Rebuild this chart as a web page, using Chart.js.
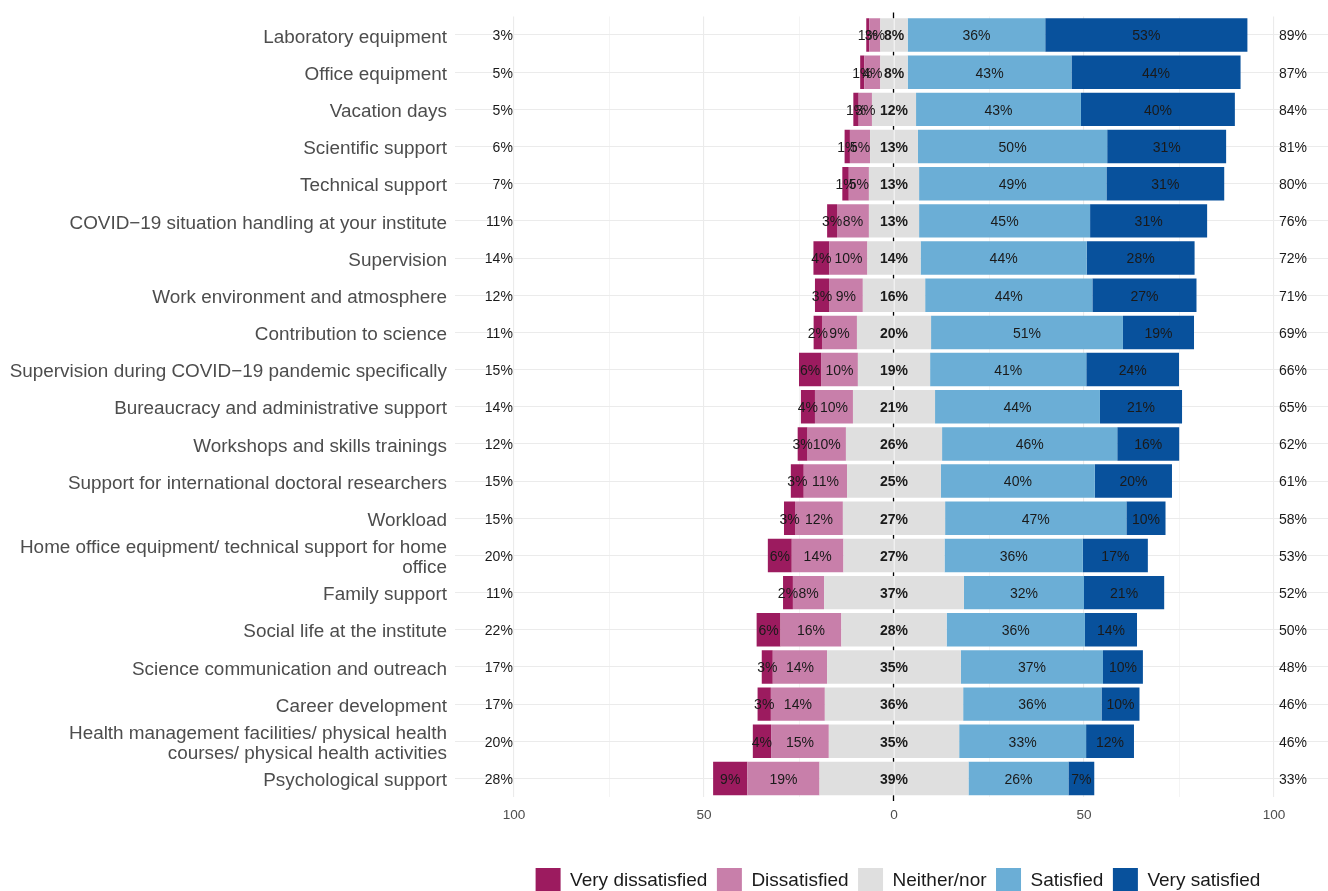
<!DOCTYPE html>
<html>
<head>
<meta charset="utf-8">
<script src="https://cdn.jsdelivr.net/npm/chart.js@4.4.1/dist/chart.umd.min.js"></script>
<style>
  html, body { margin: 0; padding: 0; overflow: hidden; background: #ffffff; }
  canvas { display: block; }
</style>
</head>
<body>
<canvas id="c" width="1341" height="903"></canvas>
<script>
// ---------------- data ----------------
const categories = [
  'Laboratory equipment',
  'Office equipment',
  'Vacation days',
  'Scientific support',
  'Technical support',
  'COVID\u221219 situation handling at your institute',
  'Supervision',
  'Work environment and atmosphere',
  'Contribution to science',
  'Supervision during COVID\u221219 pandemic specifically',
  'Bureaucracy and administrative support',
  'Workshops and skills trainings',
  'Support for international doctoral researchers',
  'Workload',
  ['Home office equipment/ technical support for home', 'office'],
  'Family support',
  'Social life at the institute',
  'Science communication and outreach',
  'Career development',
  ['Health management facilities/ physical health', 'courses/ physical health activities'],
  'Psychological support'
];

const seriesNames = ['Very dissatisfied', 'Dissatisfied', 'Neither/nor', 'Satisfied', 'Very satisfied'];

// bar values (% of respondents)
const veryDissatisfied = [0.8, 1.1, 1.4, 1.4, 1.7, 2.6, 4.2, 3.7, 2.2, 5.8, 3.7, 2.6, 3.4, 2.9, 6.3, 2.6, 6.3, 2.9, 3.5, 4.8, 9.0];
const dissatisfied     = [2.9, 4.2, 3.5, 5.3, 5.3, 8.4, 10.0, 8.9, 9.2, 9.7, 10.0, 10.1, 11.4, 12.6, 13.6, 8.2, 16.0, 14.3, 14.2, 15.2, 19.0];
const neither          = [7.2, 7.2, 11.6, 12.6, 13.2, 13.2, 14.0, 16.4, 19.5, 19.0, 21.6, 25.3, 24.7, 26.9, 26.6, 36.8, 27.7, 35.2, 36.4, 34.3, 39.2];
const satisfied        = [36.2, 43.1, 43.4, 49.8, 49.3, 45.0, 43.7, 44.0, 50.5, 41.1, 43.4, 46.1, 40.5, 47.7, 36.4, 31.6, 36.4, 37.4, 36.4, 33.4, 26.3];
const verySatisfied    = [53.2, 44.5, 40.5, 31.3, 31.0, 30.8, 28.4, 27.4, 18.7, 24.4, 21.6, 16.3, 20.3, 10.3, 17.1, 21.1, 13.7, 10.5, 10.0, 12.6, 6.8];

// printed percentage labels
const veryDissatisfiedLabels = [1, 1, 1, 1, 1, 3, 4, 3, 2, 6, 4, 3, 3, 3, 6, 2, 6, 3, 3, 4, 9];
const dissatisfiedLabels     = [3, 4, 3, 5, 5, 8, 10, 9, 9, 10, 10, 10, 11, 12, 14, 8, 16, 14, 14, 15, 19];
const neitherLabels          = [8, 8, 12, 13, 13, 13, 14, 16, 20, 19, 21, 26, 25, 27, 27, 37, 28, 35, 36, 35, 39];
const satisfiedLabels        = [36, 43, 43, 50, 49, 45, 44, 44, 51, 41, 44, 46, 40, 47, 36, 32, 36, 37, 36, 33, 26];
const verySatisfiedLabels    = [53, 44, 40, 31, 31, 31, 28, 27, 19, 24, 21, 16, 20, 10, 17, 21, 14, 10, 10, 12, 7];
const leftTotals  = [3, 5, 5, 6, 7, 11, 14, 12, 11, 15, 14, 12, 15, 15, 20, 11, 22, 17, 17, 20, 28];
const rightTotals = [89, 87, 84, 81, 80, 76, 72, 71, 69, 66, 65, 62, 61, 58, 53, 52, 50, 48, 46, 46, 33];

const xTickValues = [-100, -75, -50, -25, 0, 25, 50, 75, 100];

// ---------------- style ----------------
const COLORS = {
  vd: '#9C1B5F',
  d: '#C87FAA',
  n: '#DFDFDF',
  s: '#6BAED6',
  vs: '#08519C'
};
const FONT = "'Liberation Sans', Arial, Helvetica, sans-serif";
const GRID = '#EBEBEB';
const TEXT_DY = 1.5;

const neg = a => a.map(v => -v);
const half = a => a.map(v => v / 2);

const datasets = [
  { label: seriesNames[2], data: neg(half(neither)), backgroundColor: COLORS.n },
  { label: seriesNames[2], data: half(neither), backgroundColor: COLORS.n },
  { label: seriesNames[1], data: neg(dissatisfied), backgroundColor: COLORS.d, lab: dissatisfiedLabels },
  { label: seriesNames[3], data: satisfied, backgroundColor: COLORS.s, lab: satisfiedLabels },
  { label: seriesNames[0], data: neg(veryDissatisfied), backgroundColor: COLORS.vd, lab: veryDissatisfiedLabels },
  { label: seriesNames[4], data: verySatisfied, backgroundColor: COLORS.vs, lab: verySatisfiedLabels }
].map(ds => Object.assign(ds, { stack: 'likert', borderWidth: 0, barPercentage: 0.9, categoryPercentage: 1.0 }));

const likertPlugin = {
  id: 'likertDecor',
  beforeDatasetsDraw(chart) {
    // zero reference line, visible only in the gaps between bars
    const { ctx, chartArea, scales } = chart;
    const x0 = Math.round(scales.x.getPixelForValue(0)) - 0.5;
    const meta = chart.getDatasetMeta(0);
    const spans = meta.data.map(el => {
      const p = el.getProps(['y', 'height'], true);
      return [p.y - p.height / 2, p.y + p.height / 2];
    });
    const segs = [];
    let cur = chartArea.top - 4;
    spans.forEach(([t, b]) => { segs.push([cur, t]); cur = b; });
    segs.push([cur, chartArea.bottom + 4]);
    ctx.save();
    ctx.strokeStyle = '#000000';
    ctx.lineWidth = 1.3;
    ctx.beginPath();
    segs.forEach(([a, b]) => { if (b > a) { ctx.moveTo(x0, a); ctx.lineTo(x0, b); } });
    ctx.stroke();
    ctx.restore();
  },
  afterDatasetsDraw(chart) {
    const { ctx, scales } = chart;
    const xs = scales.x;
    ctx.save();
    ctx.fillStyle = '#1A1A1A';
    ctx.textBaseline = 'middle';
    ctx.textAlign = 'center';
    ctx.font = '14px ' + FONT;
    chart.data.datasets.forEach((ds, di) => {
      if (!ds.lab) return;
      const meta = chart.getDatasetMeta(di);
      meta.data.forEach((el, i) => {
        const p = el.getProps(['x', 'base', 'y'], true);
        ctx.fillText(ds.lab[i] + '%', (p.x + p.base) / 2, p.y + TEXT_DY);
      });
    });
    const metaN = chart.getDatasetMeta(0);
    ctx.font = 'bold 14px ' + FONT;
    metaN.data.forEach((el, i) => {
      const p = el.getProps(['y'], true);
      ctx.fillText(neitherLabels[i] + '%', xs.getPixelForValue(0), p.y + TEXT_DY);
    });
    ctx.font = '14px ' + FONT;
    metaN.data.forEach((el, i) => {
      const p = el.getProps(['y'], true);
      ctx.textAlign = 'right';
      ctx.fillText(leftTotals[i] + '%', xs.getPixelForValue(-100.3), p.y + TEXT_DY);
      ctx.textAlign = 'left';
      ctx.fillText(rightTotals[i] + '%', xs.getPixelForValue(101.3), p.y + TEXT_DY);
    });
    ctx.restore();
  }
};

new Chart(document.getElementById('c'), {
  type: 'bar',
  data: { labels: categories, datasets },
  options: {
    indexAxis: 'y',
    responsive: false,
    animation: false,
    devicePixelRatio: 1,
    layout: { padding: { top: 16.45, left: 0, right: 0, bottom: 0 } },
    scales: {
      x: {
        type: 'linear',
        stacked: true,
        min: -115.526,
        max: 117.63,
        afterBuildTicks: s => { s.ticks = xTickValues.map(v => ({ value: v })); },
        afterFit: s => { s.height = 61.45; },
        border: { display: false },
        grid: {
          color: GRID,
          drawTicks: false,
          lineWidth: c => (c.tick && c.tick.value % 50 === 0) ? 1.1 : 0.55
        },
        ticks: {
          autoSkip: false,
          maxRotation: 0,
          padding: 10,
          color: '#4D4D4D',
          font: { family: FONT, size: 13.6 },
          callback: v => (v % 50 === 0) ? String(Math.abs(v)) : ''
        }
      },
      y: {
        stacked: true,
        afterFit: s => { s.width = 455; },
        border: { display: false },
        grid: {
          color: GRID,
          lineWidth: 1.1,
          offset: false,
          drawTicks: true,
          tickLength: 8,
          tickColor: 'rgba(0,0,0,0)'
        },
        ticks: {
          autoSkip: false,
          padding: 0,
          labelOffset: 2.5,
          color: '#4D4D4D',
          font: { family: FONT, size: 18.9, lineHeight: 1.03 }
        }
      }
    },
    plugins: {
      tooltip: { enabled: false },
      legend: {
        position: 'bottom',
        fullSize: false,
        labels: {
          boxWidth: 25,
          boxHeight: 25,
          padding: 9.5,
          color: '#1A1A1A',
          font: { family: FONT, size: 19 },
          filter: item => item.datasetIndex !== 1,
          sort: (a, b) => seriesNames.indexOf(a.text) - seriesNames.indexOf(b.text)
        }
      }
    }
  },
  plugins: [likertPlugin]
});
</script>
</body>
</html>
